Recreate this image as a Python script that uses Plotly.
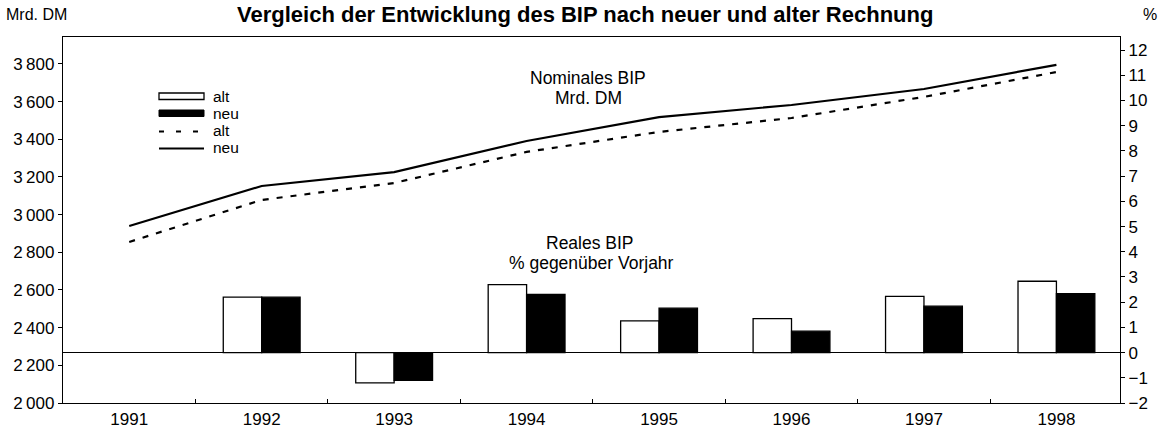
import plotly.graph_objects as go

years = ["1991", "1992", "1993", "1994", "1995", "1996", "1997", "1998"]
nominal_neu = [2940, 3152, 3226, 3391, 3518, 3582, 3667, 3795]
nominal_alt = [2855, 3078, 3168, 3333, 3439, 3513, 3625, 3757]
real_years = ["1992", "1993", "1994", "1995", "1996", "1997", "1998"]
real_alt = [2.2, -1.2, 2.7, 1.26, 1.35, 2.23, 2.83]
real_neu = [2.2, -1.1, 2.31, 1.76, 0.85, 1.84, 2.34]

left_ticks = [2000, 2200, 2400, 2600, 2800, 3000, 3200, 3400, 3600, 3800]
left_ticktext = ["2\u2009000", "2\u2009200", "2\u2009400", "2\u2009600", "2\u2009800",
                 "3\u2009000", "3\u2009200", "3\u2009400", "3\u2009600", "3\u2009800"]
right_ticks = list(range(-2, 13))
right_ticktext = [("\u2212" + str(-v)) if v < 0 else str(v) for v in right_ticks]

FONT = "Liberation Sans, Arial, sans-serif"
W, H = 1167, 431
ML, MR, MT, MB = 63, 47, 37, 28
PW, PH = W - ML - MR, H - MT - MB

def px(x):
    return (x - ML) / PW

def py(y):
    return 1 - (y - MT) / PH

fig = go.Figure()
fig.add_trace(go.Scatter(x=years, y=nominal_alt, mode="lines", name="alt",
                         line=dict(color="black", width=2.2, dash="6px,8px"), yaxis="y"))
fig.add_trace(go.Scatter(x=years, y=nominal_neu, mode="lines", name="neu",
                         line=dict(color="black", width=2.2), yaxis="y"))
fig.add_trace(go.Bar(x=real_years, y=real_alt, name="alt", yaxis="y2",
                     marker=dict(color="white", line=dict(color="black", width=1.3))))
fig.add_trace(go.Bar(x=real_years, y=real_neu, name="neu", yaxis="y2",
                     marker=dict(color="black", line=dict(color="black", width=1.3))))

shapes = []
annotations = []
# custom legend
lx0, lx1 = 159, 204
shapes.append(dict(type="rect", xref="paper", yref="paper", x0=px(lx0), x1=px(lx1),
                   y0=py(99.5), y1=py(93), line=dict(color="black", width=1.3), fillcolor="white"))
shapes.append(dict(type="rect", xref="paper", yref="paper", x0=px(lx0), x1=px(lx1),
                   y0=py(116.5), y1=py(110), line=dict(color="black", width=1), fillcolor="black"))
shapes.append(dict(type="line", xref="paper", yref="paper", x0=px(lx0), x1=px(lx1),
                   y0=py(131.5), y1=py(131.5), line=dict(color="black", width=2.2, dash="5px,12px")))
shapes.append(dict(type="line", xref="paper", yref="paper", x0=px(lx0), x1=px(lx1),
                   y0=py(148.5), y1=py(148.5), line=dict(color="black", width=2)))
for yy, t in [(96, "alt"), (113, "neu"), (130, "alt"), (147, "neu")]:
    annotations.append(dict(text=t, xref="paper", yref="paper", x=px(211), y=py(yy),
                            xanchor="left", yanchor="middle", showarrow=False,
                            font=dict(size=15.5, color="black", family=FONT)))

annotations += [
    dict(text="<b>Vergleich der Entwicklung des BIP nach neuer und alter Rechnung</b>",
         xref="paper", yref="paper", x=px(585), y=py(14), xanchor="center", yanchor="middle",
         showarrow=False, font=dict(size=22, color="black", family=FONT)),
    dict(text="Mrd. DM", xref="paper", yref="paper", x=px(4), y=py(15), xanchor="left",
         yanchor="middle", showarrow=False, font=dict(size=16, color="black", family=FONT)),
    dict(text="%", xref="paper", yref="paper", x=px(1150), y=py(15), xanchor="center",
         yanchor="middle", showarrow=False, font=dict(size=16, color="black", family=FONT)),
    dict(text="Nominales BIP", xref="paper", yref="paper", x=px(588), y=py(78),
         xanchor="center", yanchor="middle", showarrow=False,
         font=dict(size=17.5, color="black", family=FONT)),
    dict(text="Mrd. DM", xref="paper", yref="paper", x=px(588), y=py(98),
         xanchor="center", yanchor="middle", showarrow=False,
         font=dict(size=17.5, color="black", family=FONT)),
    dict(text="Reales BIP", xref="paper", yref="paper", x=px(590), y=py(243),
         xanchor="center", yanchor="middle", showarrow=False,
         font=dict(size=17.5, color="black", family=FONT)),
    dict(text="% gegenüber Vorjahr", xref="paper", yref="paper", x=px(591), y=py(263),
         xanchor="center", yanchor="middle", showarrow=False,
         font=dict(size=17.5, color="black", family=FONT)),
]

fig.update_layout(
    width=W, height=H,
    margin=dict(l=ML, r=MR, t=MT, b=MB, pad=0),
    paper_bgcolor="white", plot_bgcolor="white",
    showlegend=False,
    barmode="group", bargap=0.42, bargroupgap=0,
    font=dict(family=FONT, size=17, color="black"),
    xaxis=dict(type="category", categoryorder="array", categoryarray=years,
               range=[-0.5, 7.48], showline=True, linecolor="black", linewidth=1.3,
               mirror=True, ticks="inside", ticklen=4, tickcolor="black",
               tickson="boundaries", showgrid=False, zeroline=False, automargin=False,
               tickfont=dict(size=17, family=FONT, color="black")),
    yaxis=dict(range=[2000, 3943], tickvals=left_ticks, ticktext=left_ticktext,
               showline=True, linecolor="black", linewidth=1.3, ticks="outside",
               ticklen=4, tickcolor="black", showgrid=False, zeroline=False, automargin=False,
               tickfont=dict(size=17, family=FONT, color="black")),
    yaxis2=dict(range=[-2, 12.52], tickvals=right_ticks, ticktext=right_ticktext,
                overlaying="y", side="right", showline=True, linecolor="black",
                linewidth=1.3, ticks="outside", ticklen=4, tickcolor="black",
                showgrid=False, zeroline=True, zerolinecolor="black", zerolinewidth=1.2,
                automargin=False,
                tickfont=dict(size=17, family=FONT, color="black")),
    shapes=shapes, annotations=annotations,
)

fig.write_html("out.html", config={"displayModeBar": False},
               post_script="document.body.style.margin='0';")
